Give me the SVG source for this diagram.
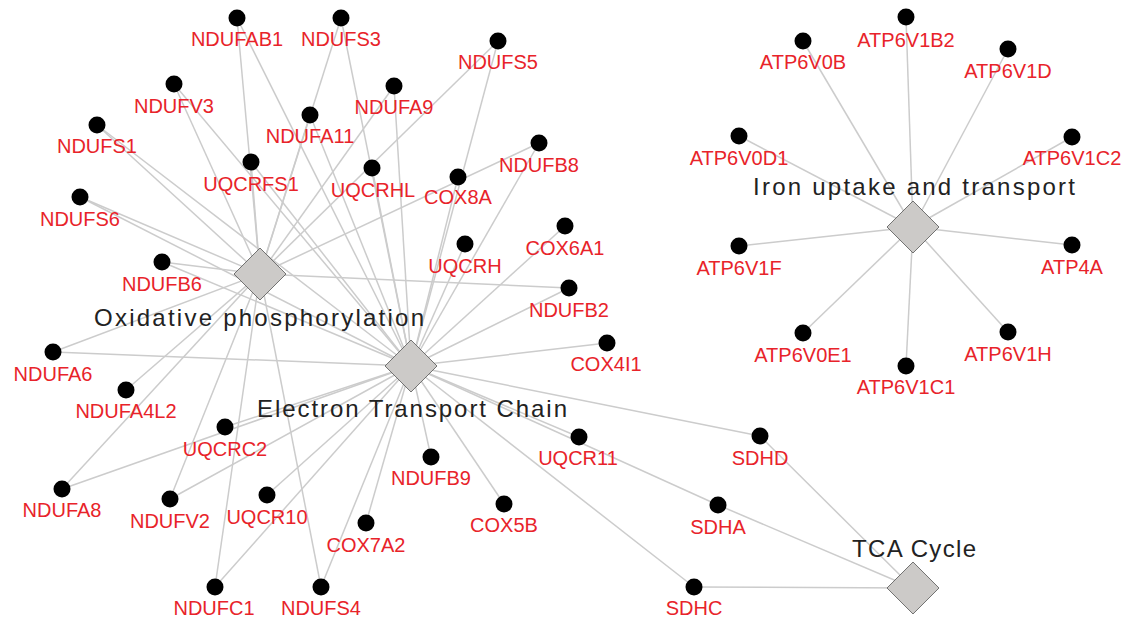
<svg xmlns="http://www.w3.org/2000/svg" width="1135" height="622" viewBox="0 0 1135 622">
<style>
.e{stroke:#cccccc;stroke-width:1.5;fill:none}
.hub{fill:#cccac8;stroke:#555555;stroke-width:0.8}
.dot{fill:#000000}
.gl{font-family:"Liberation Sans",Arial,sans-serif;font-size:20px;fill:#e8232a;text-anchor:middle}
.hl{font-family:"Liberation Sans",Arial,sans-serif;font-size:24px;fill:#222222;text-anchor:middle}
</style>
<rect width="1135" height="622" fill="#ffffff"/>
<g id="connectors">
<line class="e" x1="237" y1="18" x2="260" y2="274"/>
<line class="e" x1="341" y1="18" x2="260" y2="274"/>
<line class="e" x1="174" y1="84" x2="260" y2="274"/>
<line class="e" x1="97" y1="125" x2="260" y2="274"/>
<line class="e" x1="310" y1="115" x2="260" y2="274"/>
<line class="e" x1="251" y1="162" x2="260" y2="274"/>
<line class="e" x1="80" y1="197" x2="260" y2="274"/>
<line class="e" x1="498" y1="41" x2="260" y2="274"/>
<line class="e" x1="394" y1="86" x2="260" y2="274"/>
<line class="e" x1="539" y1="143" x2="260" y2="274"/>
<line class="e" x1="162" y1="262" x2="260" y2="274"/>
<line class="e" x1="53" y1="352" x2="260" y2="274"/>
<line class="e" x1="126" y1="390" x2="260" y2="274"/>
<line class="e" x1="569" y1="288" x2="260" y2="274"/>
<line class="e" x1="62" y1="489" x2="260" y2="274"/>
<line class="e" x1="170" y1="499" x2="260" y2="274"/>
<line class="e" x1="215" y1="587" x2="260" y2="274"/>
<line class="e" x1="321" y1="587" x2="260" y2="274"/>
<line class="e" x1="237" y1="18" x2="411" y2="366"/>
<line class="e" x1="341" y1="18" x2="411" y2="366"/>
<line class="e" x1="174" y1="84" x2="411" y2="366"/>
<line class="e" x1="97" y1="125" x2="411" y2="366"/>
<line class="e" x1="310" y1="115" x2="411" y2="366"/>
<line class="e" x1="251" y1="162" x2="411" y2="366"/>
<line class="e" x1="80" y1="197" x2="411" y2="366"/>
<line class="e" x1="372" y1="168" x2="411" y2="366"/>
<line class="e" x1="498" y1="41" x2="411" y2="366"/>
<line class="e" x1="394" y1="86" x2="411" y2="366"/>
<line class="e" x1="539" y1="143" x2="411" y2="366"/>
<line class="e" x1="458" y1="177" x2="411" y2="366"/>
<line class="e" x1="162" y1="262" x2="411" y2="366"/>
<line class="e" x1="53" y1="352" x2="411" y2="366"/>
<line class="e" x1="565" y1="226" x2="411" y2="366"/>
<line class="e" x1="465" y1="244" x2="411" y2="366"/>
<line class="e" x1="569" y1="288" x2="411" y2="366"/>
<line class="e" x1="607" y1="343" x2="411" y2="366"/>
<line class="e" x1="225" y1="427" x2="411" y2="366"/>
<line class="e" x1="62" y1="489" x2="411" y2="366"/>
<line class="e" x1="170" y1="499" x2="411" y2="366"/>
<line class="e" x1="267" y1="495" x2="411" y2="366"/>
<line class="e" x1="215" y1="587" x2="411" y2="366"/>
<line class="e" x1="321" y1="587" x2="411" y2="366"/>
<line class="e" x1="366" y1="523" x2="411" y2="366"/>
<line class="e" x1="431" y1="457" x2="411" y2="366"/>
<line class="e" x1="504" y1="504" x2="411" y2="366"/>
<line class="e" x1="579" y1="437" x2="411" y2="366"/>
<line class="e" x1="760" y1="436" x2="411" y2="366"/>
<line class="e" x1="718" y1="505" x2="411" y2="366"/>
<line class="e" x1="694" y1="587" x2="411" y2="366"/>
<line class="e" x1="760" y1="436" x2="913" y2="588"/>
<line class="e" x1="718" y1="505" x2="913" y2="588"/>
<line class="e" x1="694" y1="587" x2="913" y2="588"/>
<line class="e" x1="803" y1="41" x2="913" y2="227"/>
<line class="e" x1="906" y1="17" x2="913" y2="227"/>
<line class="e" x1="1008" y1="49" x2="913" y2="227"/>
<line class="e" x1="739" y1="136" x2="913" y2="227"/>
<line class="e" x1="1072" y1="137" x2="913" y2="227"/>
<line class="e" x1="739" y1="246" x2="913" y2="227"/>
<line class="e" x1="1072" y1="245" x2="913" y2="227"/>
<line class="e" x1="803" y1="333" x2="913" y2="227"/>
<line class="e" x1="906" y1="366" x2="913" y2="227"/>
<line class="e" x1="1008" y1="332" x2="913" y2="227"/>
</g>
<g id="hub-oxphos"><polygon class="hub" points="260,248 286,274 260,300 234,274"/><text class="hl" x="259" y="326" textLength="330" lengthAdjust="spacing">Oxidative phosphorylation</text></g>
<g id="hub-etc"><polygon class="hub" points="411,340 437,366 411,392 385,366"/><text class="hl" x="412" y="417" textLength="310" lengthAdjust="spacing">Electron Transport Chain</text></g>
<g id="hub-iron"><polygon class="hub" points="913,201 939,227 913,253 887,227"/><text class="hl" x="914" y="195" textLength="322" lengthAdjust="spacing">Iron uptake and transport</text></g>
<g id="hub-tca"><polygon class="hub" points="913,562 939,588 913,614 887,588"/><text class="hl" x="914" y="557" textLength="124" lengthAdjust="spacing">TCA Cycle</text></g>
<g id="NDUFAB1"><circle class="dot" cx="237" cy="18" r="8.5"/><text class="gl" x="237" y="46">NDUFAB1</text></g>
<g id="NDUFS3"><circle class="dot" cx="341" cy="18" r="8.5"/><text class="gl" x="341" y="46">NDUFS3</text></g>
<g id="NDUFV3"><circle class="dot" cx="174" cy="84" r="8.5"/><text class="gl" x="174" y="113">NDUFV3</text></g>
<g id="NDUFS1"><circle class="dot" cx="97" cy="125" r="8.5"/><text class="gl" x="97" y="153">NDUFS1</text></g>
<g id="NDUFA11"><circle class="dot" cx="310" cy="115" r="8.5"/><text class="gl" x="310" y="143">NDUFA11</text></g>
<g id="UQCRFS1"><circle class="dot" cx="251" cy="162" r="8.5"/><text class="gl" x="251" y="191">UQCRFS1</text></g>
<g id="NDUFS6"><circle class="dot" cx="80" cy="197" r="8.5"/><text class="gl" x="80" y="226">NDUFS6</text></g>
<g id="UQCRHL"><circle class="dot" cx="372" cy="168" r="8.5"/><text class="gl" x="373" y="197">UQCRHL</text></g>
<g id="NDUFS5"><circle class="dot" cx="498" cy="41" r="8.5"/><text class="gl" x="498" y="69">NDUFS5</text></g>
<g id="NDUFA9"><circle class="dot" cx="394" cy="86" r="8.5"/><text class="gl" x="394" y="114">NDUFA9</text></g>
<g id="NDUFB8"><circle class="dot" cx="539" cy="143" r="8.5"/><text class="gl" x="539" y="172">NDUFB8</text></g>
<g id="COX8A"><circle class="dot" cx="458" cy="177" r="8.5"/><text class="gl" x="458" y="204">COX8A</text></g>
<g id="NDUFB6"><circle class="dot" cx="162" cy="262" r="8.5"/><text class="gl" x="162" y="291">NDUFB6</text></g>
<g id="NDUFA6"><circle class="dot" cx="53" cy="352" r="8.5"/><text class="gl" x="53" y="381">NDUFA6</text></g>
<g id="NDUFA4L2"><circle class="dot" cx="126" cy="390" r="8.5"/><text class="gl" x="126" y="418">NDUFA4L2</text></g>
<g id="COX6A1"><circle class="dot" cx="565" cy="226" r="8.5"/><text class="gl" x="565" y="255">COX6A1</text></g>
<g id="UQCRH"><circle class="dot" cx="465" cy="244" r="8.5"/><text class="gl" x="465" y="273">UQCRH</text></g>
<g id="NDUFB2"><circle class="dot" cx="569" cy="288" r="8.5"/><text class="gl" x="569" y="317">NDUFB2</text></g>
<g id="COX4I1"><circle class="dot" cx="607" cy="343" r="8.5"/><text class="gl" x="606" y="371">COX4I1</text></g>
<g id="UQCRC2"><circle class="dot" cx="225" cy="427" r="8.5"/><text class="gl" x="225" y="456">UQCRC2</text></g>
<g id="NDUFA8"><circle class="dot" cx="62" cy="489" r="8.5"/><text class="gl" x="62" y="517">NDUFA8</text></g>
<g id="NDUFV2"><circle class="dot" cx="170" cy="499" r="8.5"/><text class="gl" x="170" y="528">NDUFV2</text></g>
<g id="UQCR10"><circle class="dot" cx="267" cy="495" r="8.5"/><text class="gl" x="267" y="524">UQCR10</text></g>
<g id="NDUFC1"><circle class="dot" cx="215" cy="587" r="8.5"/><text class="gl" x="214" y="615">NDUFC1</text></g>
<g id="NDUFS4"><circle class="dot" cx="321" cy="587" r="8.5"/><text class="gl" x="321" y="615">NDUFS4</text></g>
<g id="COX7A2"><circle class="dot" cx="366" cy="523" r="8.5"/><text class="gl" x="366" y="552">COX7A2</text></g>
<g id="NDUFB9"><circle class="dot" cx="431" cy="457" r="8.5"/><text class="gl" x="431" y="485">NDUFB9</text></g>
<g id="COX5B"><circle class="dot" cx="504" cy="504" r="8.5"/><text class="gl" x="504" y="532">COX5B</text></g>
<g id="UQCR11"><circle class="dot" cx="579" cy="437" r="8.5"/><text class="gl" x="578" y="465">UQCR11</text></g>
<g id="SDHD"><circle class="dot" cx="760" cy="436" r="8.5"/><text class="gl" x="760" y="465">SDHD</text></g>
<g id="SDHA"><circle class="dot" cx="718" cy="505" r="8.5"/><text class="gl" x="718" y="534">SDHA</text></g>
<g id="SDHC"><circle class="dot" cx="694" cy="587" r="8.5"/><text class="gl" x="694" y="615">SDHC</text></g>
<g id="ATP6V0B"><circle class="dot" cx="803" cy="41" r="8.5"/><text class="gl" x="803" y="69">ATP6V0B</text></g>
<g id="ATP6V1B2"><circle class="dot" cx="906" cy="17" r="8.5"/><text class="gl" x="906" y="47">ATP6V1B2</text></g>
<g id="ATP6V1D"><circle class="dot" cx="1008" cy="49" r="8.5"/><text class="gl" x="1008" y="78">ATP6V1D</text></g>
<g id="ATP6V0D1"><circle class="dot" cx="739" cy="136" r="8.5"/><text class="gl" x="739" y="165">ATP6V0D1</text></g>
<g id="ATP6V1C2"><circle class="dot" cx="1072" cy="137" r="8.5"/><text class="gl" x="1072" y="165">ATP6V1C2</text></g>
<g id="ATP6V1F"><circle class="dot" cx="739" cy="246" r="8.5"/><text class="gl" x="739" y="275">ATP6V1F</text></g>
<g id="ATP4A"><circle class="dot" cx="1072" cy="245" r="8.5"/><text class="gl" x="1072" y="274">ATP4A</text></g>
<g id="ATP6V0E1"><circle class="dot" cx="803" cy="333" r="8.5"/><text class="gl" x="803" y="362">ATP6V0E1</text></g>
<g id="ATP6V1C1"><circle class="dot" cx="906" cy="366" r="8.5"/><text class="gl" x="906" y="394">ATP6V1C1</text></g>
<g id="ATP6V1H"><circle class="dot" cx="1008" cy="332" r="8.5"/><text class="gl" x="1008" y="361">ATP6V1H</text></g>
</svg>
